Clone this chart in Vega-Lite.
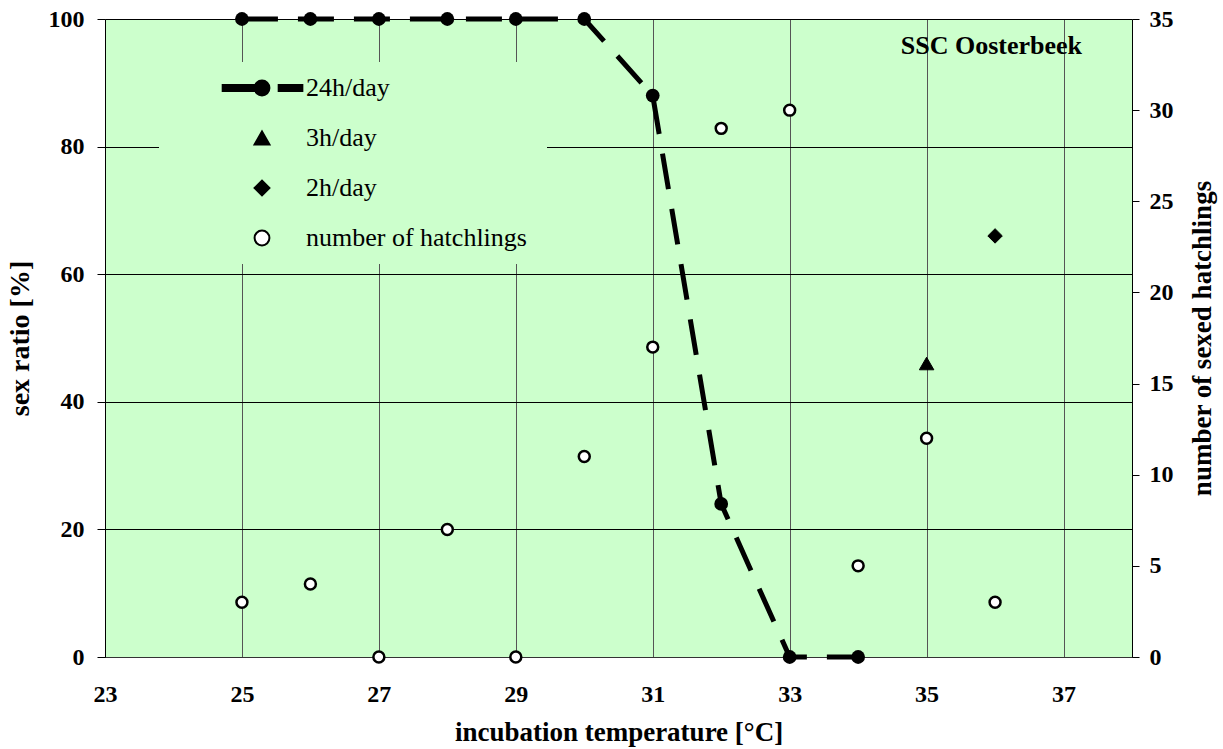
{
  "$schema": "https://vega.github.io/schema/vega-lite/v6.json",
  "width": 1027,
  "height": 638,
  "autosize": "none",
  "padding": {"left": 105, "top": 19, "right": 91, "bottom": 92},
  "background": "white",
  "config": {"view": {"stroke": null, "fill": "#CCFFCC"}, "font": "Liberation Serif, Times New Roman, serif"},
  "title": {
    "text": "SSC Oosterbeek", "anchor": "end", "frame": "group", "orient": "top",
    "baseline": "middle", "offset": -65, "dx": -50,
    "font": "Liberation Serif, Times New Roman, serif", "fontSize": 26, "fontWeight": "bold", "color": "black"
  },
  "data": {"values": [
    {"temp": 25, "series": "24h/day", "value": 100},
    {"temp": 26, "series": "24h/day", "value": 100},
    {"temp": 27, "series": "24h/day", "value": 100},
    {"temp": 28, "series": "24h/day", "value": 100},
    {"temp": 29, "series": "24h/day", "value": 100},
    {"temp": 30, "series": "24h/day", "value": 100},
    {"temp": 31, "series": "24h/day", "value": 88},
    {"temp": 32, "series": "24h/day", "value": 24},
    {"temp": 33, "series": "24h/day", "value": 0},
    {"temp": 34, "series": "24h/day", "value": 0},
    {"temp": 35, "series": "3h/day", "value": 46},
    {"temp": 36, "series": "2h/day", "value": 66},
    {"temp": 25, "series": "number of  hatchlings", "value": 3},
    {"temp": 26, "series": "number of  hatchlings", "value": 4},
    {"temp": 27, "series": "number of  hatchlings", "value": 0},
    {"temp": 28, "series": "number of  hatchlings", "value": 7},
    {"temp": 29, "series": "number of  hatchlings", "value": 0},
    {"temp": 30, "series": "number of  hatchlings", "value": 11},
    {"temp": 31, "series": "number of  hatchlings", "value": 17},
    {"temp": 32, "series": "number of  hatchlings", "value": 29},
    {"temp": 33, "series": "number of  hatchlings", "value": 30},
    {"temp": 34, "series": "number of  hatchlings", "value": 5},
    {"temp": 35, "series": "number of  hatchlings", "value": 12},
    {"temp": 36, "series": "number of  hatchlings", "value": 3}
  ]},
  "encoding": {
    "x": {
      "field": "temp", "type": "quantitative",
      "scale": {"domain": [23, 38], "nice": false, "zero": false},
      "axis": {
        "values": [23, 25, 27, 29, 31, 33, 35, 37],
        "grid": true, "gridColor": "#555555", "gridWidth": 1, "gridOpacity": 1,
        "ticks": false, "domain": true, "domainColor": "#333333", "domainWidth": 1,
        "labelFont": "Liberation Serif, Times New Roman, serif", "labelFontSize": 24, "labelFontWeight": "bold", "labelColor": "black",
        "labelPadding": 25, "labelFlush": false,
        "title": "incubation temperature [°C]",
        "titleFont": "Liberation Serif, Times New Roman, serif", "titleFontSize": 27, "titleFontWeight": "bold", "titleColor": "black",
        "titlePadding": 13
      }
    }
  },
  "layer": [
    {
      "encoding": {
        "y": {
          "field": "value", "type": "quantitative",
          "scale": {"domain": [0, 100], "nice": false, "zero": true},
          "axis": {
            "orient": "left",
            "values": [0, 20, 40, 60, 80, 100],
            "grid": true, "gridColor": "black", "gridOpacity": 1, "gridWidth": 1,
            "ticks": true, "tickSize": 8, "tickColor": "black", "tickWidth": 1,
            "domain": true, "domainColor": "black", "domainWidth": 1,
            "labelFont": "Liberation Serif, Times New Roman, serif", "labelFontSize": 24, "labelFontWeight": "bold", "labelColor": "black",
            "labelPadding": 13, "labelFlush": false,
            "title": "sex ratio [%]",
            "titleFont": "Liberation Serif, Times New Roman, serif", "titleFontSize": 28, "titleFontWeight": "bold", "titleColor": "black",
            "titlePadding": 14
          }
        }
      },
      "layer": [
        {
          "transform": [{"filter": "datum.series === '24h/day'"}],
          "mark": {"type": "line", "stroke": "black", "strokeWidth": 5, "strokeDash": [36, 20]}
        },
        {
          "transform": [{"filter": "datum.series === '24h/day'"}],
          "mark": {"type": "point", "shape": "circle", "filled": true, "fill": "black", "size": 190, "opacity": 1}
        },
        {
          "transform": [{"filter": "datum.series === '3h/day' || datum.series === '2h/day'"}],
          "mark": {"type": "point", "filled": true, "strokeWidth": 1, "size": 210, "opacity": 1},
          "encoding": {
            "shape": {
              "field": "series", "type": "nominal",
              "scale": {
                "domain": ["24h/day", "3h/day", "2h/day", "number of  hatchlings"],
                "range": ["M-5.3,-0.4L-0.5,-0.4L-0.5,0.4L-5.3,0.4Z M2.25,-0.4L5.44,-0.4L5.44,0.4L2.25,0.4Z M1,0A1,1,0,1,1,-1,0A1,1,0,1,1,1,0Z", "triangle-up", "diamond", "circle"]
              },
              "legend": {
                "orient": "none", "legendX": 54, "legendY": 43,
                "title": " ", "titleOrient": "left", "titleFontSize": 1, "titlePadding": 77,
                "padding": 13, "fillColor": "#CCFFCC", "strokeColor": null,
                "labelFont": "Liberation Serif, Times New Roman, serif", "labelFontSize": 26, "labelFontWeight": "normal", "labelColor": "black",
                "labelOffset": 31, "labelLimit": 400, "rowPadding": 24,
                "symbolSize": 220, "symbolStrokeWidth": 2
              }
            },
            "fill": {
              "field": "series", "type": "nominal",
              "scale": {
                "domain": ["24h/day", "3h/day", "2h/day", "number of  hatchlings"],
                "range": ["black", "black", "black", "white"]
              }
            },
            "stroke": {
              "field": "series", "type": "nominal",
              "scale": {
                "domain": ["24h/day", "3h/day", "2h/day", "number of  hatchlings"],
                "range": ["black", "black", "black", "black"]
              }
            }
          }
        }
      ]
    },
    {
      "transform": [{"filter": "datum.series === 'number of  hatchlings'"}],
      "mark": {"type": "point", "filled": true, "strokeWidth": 2.5, "size": 120, "opacity": 1},
      "encoding": {
        "y": {
          "field": "value", "type": "quantitative",
          "scale": {"domain": [0, 35], "nice": false, "zero": true},
          "axis": {
            "orient": "right",
            "values": [0, 5, 10, 15, 20, 25, 30, 35],
            "grid": false,
            "ticks": true, "tickSize": 7, "tickColor": "black", "tickWidth": 1,
            "domain": true, "domainColor": "black", "domainWidth": 1,
            "labelFont": "Liberation Serif, Times New Roman, serif", "labelFontSize": 24, "labelFontWeight": "bold", "labelColor": "black",
            "labelPadding": 10, "labelFlush": false,
            "title": "number of sexed hatchlings",
            "titleFont": "Liberation Serif, Times New Roman, serif", "titleFontSize": 27, "titleFontWeight": "bold", "titleColor": "black",
            "titleAngle": 270, "titleBaseline": "top", "titlePadding": 16
          }
        },
        "shape": {
          "field": "series", "type": "nominal",
          "scale": {
            "domain": ["24h/day", "3h/day", "2h/day", "number of  hatchlings"],
            "range": ["M-5.3,-0.4L-0.5,-0.4L-0.5,0.4L-5.3,0.4Z M2.25,-0.4L5.44,-0.4L5.44,0.4L2.25,0.4Z M1,0A1,1,0,1,1,-1,0A1,1,0,1,1,1,0Z", "triangle-up", "diamond", "circle"]
          },
          "legend": {
            "orient": "none", "legendX": 54, "legendY": 43,
            "title": " ", "titleOrient": "left", "titleFontSize": 1, "titlePadding": 77,
            "padding": 13, "fillColor": "#CCFFCC", "strokeColor": null,
            "labelFont": "Liberation Serif, Times New Roman, serif", "labelFontSize": 26, "labelFontWeight": "normal", "labelColor": "black",
            "labelOffset": 31, "labelLimit": 400, "rowPadding": 24,
            "symbolSize": 220, "symbolStrokeWidth": 2
          }
        },
        "fill": {
          "field": "series", "type": "nominal",
          "scale": {
            "domain": ["24h/day", "3h/day", "2h/day", "number of  hatchlings"],
            "range": ["black", "black", "black", "white"]
          }
        },
        "stroke": {
          "field": "series", "type": "nominal",
          "scale": {
            "domain": ["24h/day", "3h/day", "2h/day", "number of  hatchlings"],
            "range": ["black", "black", "black", "black"]
          }
        }
      }
    }
  ],
  "resolve": {"scale": {"y": "independent"}}
}
